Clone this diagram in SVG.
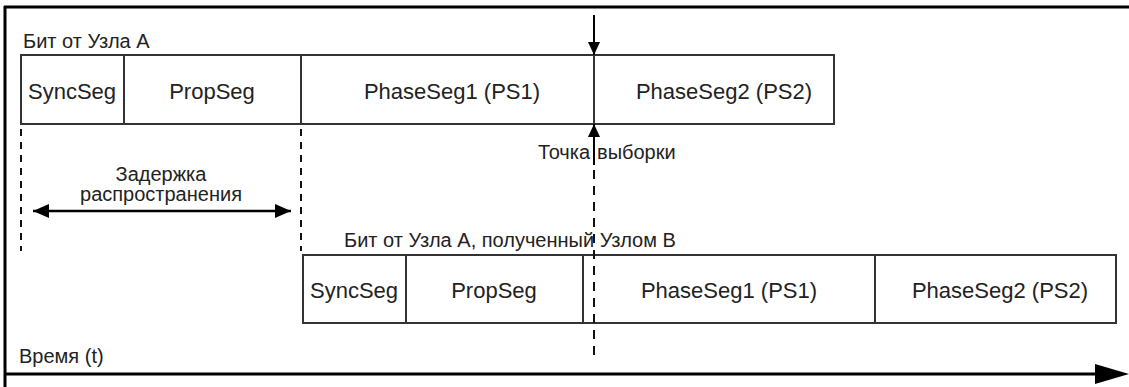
<svg xmlns="http://www.w3.org/2000/svg" width="1129" height="387" viewBox="0 0 1129 387">
<style>
.seg{fill:#fff;stroke:#333;stroke-width:2}
.div{stroke:#333;stroke-width:2}
.t{font-family:"Liberation Sans",Arial,sans-serif;fill:#222}
.s{font-size:22px;text-anchor:middle}
.l{font-size:20px}
.dash{stroke:#111;stroke-width:2;fill:none}
.ax{stroke:#000;fill:none}
</style>
<defs>
<marker id="ah" viewBox="0 0 16 14" refX="16" refY="7" markerWidth="16" markerHeight="14" markerUnits="userSpaceOnUse" orient="auto-start-reverse">
<path d="M0,0 L16,7 L0,14 Z" fill="#000"/>
</marker>
<marker id="ahs" viewBox="0 0 13 12" refX="13" refY="6" markerWidth="13" markerHeight="12" markerUnits="userSpaceOnUse" orient="auto-start-reverse">
<path d="M0,0 L13,6 L0,12 Z" fill="#000"/>
</marker>
</defs>
<rect width="1129" height="387" fill="#fff"/>
<g id="frame">
<line x1="4" y1="7" x2="1129" y2="7" stroke="#000" stroke-width="3"/>
<line x1="5" y1="6" x2="5" y2="387" stroke="#000" stroke-width="3"/>
</g>
<g id="bitA">
<text class="t l" x="23" y="48">Бит от Узла А</text>
<rect class="seg" x="21" y="55" width="813" height="69"/>
<line class="div" x1="124" y1="55" x2="124" y2="124"/>
<line class="div" x1="301" y1="55" x2="301" y2="124"/>
<line class="div" x1="594" y1="55" x2="594" y2="124"/>
<text class="t s" x="72" y="99">SyncSeg</text>
<text class="t s" x="212" y="99">PropSeg</text>
<text class="t s" x="452" y="99">PhaseSeg1 (PS1)</text>
<text class="t s" x="724" y="99">PhaseSeg2 (PS2)</text>
</g>
<g id="bitB">
<text class="t l" x="344" y="247">Бит от Узла А, полученный Узлом В</text>
<rect class="seg" x="303" y="255" width="813" height="68"/>
<line class="div" x1="406" y1="255" x2="406" y2="323"/>
<line class="div" x1="583" y1="255" x2="583" y2="323"/>
<line class="div" x1="875" y1="255" x2="875" y2="323"/>
<text class="t s" x="354" y="298">SyncSeg</text>
<text class="t s" x="494" y="298">PropSeg</text>
<text class="t s" x="729" y="298">PhaseSeg1 (PS1)</text>
<text class="t s" x="1000" y="298">PhaseSeg2 (PS2)</text>
</g>
<g id="sample">
<text class="t l" x="538" y="159">Точка</text>
<text class="t l" x="597" y="159">выборки</text>
</g>
<g id="delay">
<text class="t l" x="161" y="181" text-anchor="middle">Задержка</text>
<text class="t l" x="161" y="201" text-anchor="middle">распространения</text>
</g>
<g id="time">
<text class="t l" x="19" y="363">Время (t)</text>
</g>
<g id="connectors">
<line class="ax" x1="594" y1="15" x2="594" y2="55" stroke-width="2" marker-end="url(#ahs)"/>
<line class="ax" x1="594" y1="165" x2="594" y2="124" stroke-width="2" marker-end="url(#ahs)"/>
<line class="dash" x1="594" y1="170" x2="594" y2="356" stroke-dasharray="9 7"/>
<line class="dash" x1="21" y1="129" x2="21" y2="251" stroke-dasharray="7 6"/>
<line class="dash" x1="301" y1="129" x2="301" y2="251" stroke-dasharray="7 6"/>
<line class="ax" x1="33" y1="211" x2="291" y2="211" stroke-width="2.5" marker-start="url(#ah)" marker-end="url(#ah)"/>
<line class="ax" x1="5" y1="374" x2="1097" y2="374" stroke-width="3"/>
<path d="M1095,364 L1129,374 L1095,384 Z" fill="#000"/>
</g>
</svg>
